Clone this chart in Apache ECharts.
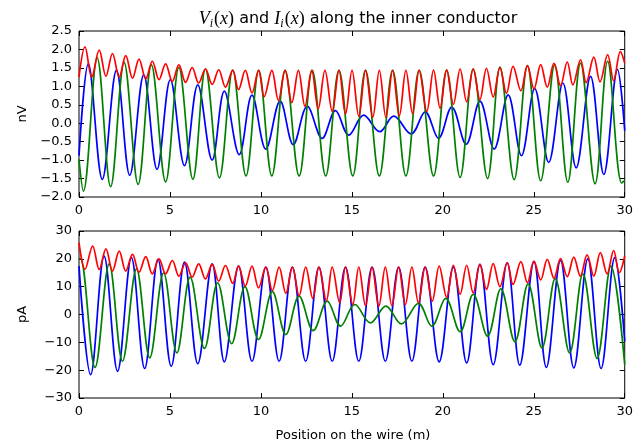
<!DOCTYPE html>
<html>
<head>
<meta charset="utf-8">
<script src="https://cdn.jsdelivr.net/npm/echarts@6/dist/echarts.min.js"></script>
<style>
  html, body { margin: 0; padding: 0; background: #fff; }
  #chart { width: 636px; height: 446px; }
</style>
</head>
<body>
<div id="chart"></div>
<script>
// voltage along the inner conductor (nV): [position m, value]
const vRe = [
  [0, -0.88], [0.51, 1.61], [1.28, -1.52], [2.06, 1.44], [2.79, -1.41], [3.56, 1.31],
  [4.29, -1.25], [5.02, 1.18], [5.80, -1.15], [6.53, 1.04], [7.32, -1.00], [7.99, 0.87],
  [8.81, -0.85], [9.51, 0.76], [10.27, -0.70], [11.06, 0.60], [11.78, -0.58], [12.55, 0.46],
  [13.37, -0.41], [14.10, 0.34], [14.83, -0.32], [15.65, 0.22], [16.53, -0.23], [17.30, 0.19],
  [18.26, -0.29], [19.03, 0.31], [19.76, -0.41], [20.49, 0.44], [21.28, -0.57], [22.04, 0.60],
  [22.82, -0.70], [23.59, 0.77], [24.32, -0.88], [25.05, 0.94], [25.82, -1.06], [26.60, 1.09],
  [27.33, -1.21], [28.12, 1.27], [28.85, -1.39], [29.60, 1.46], [30, -0.2]
];
const vIm = [
  [0, -0.98], [0.24, -1.84], [1.00, 1.77], [1.74, -1.72], [2.48, 1.65], [3.25, -1.66],
  [3.98, 1.58], [4.76, -1.59], [5.49, 1.51], [6.26, -1.52], [6.95, 1.47], [7.72, -1.48],
  [8.45, 1.44], [9.18, -1.43], [9.88, 1.43], [10.60, -1.43], [11.33, 1.43], [12.10, -1.43],
  [12.82, 1.43], [13.56, -1.43], [14.29, 1.43], [15.05, -1.43], [15.75, 1.43], [16.51, -1.43],
  [17.24, 1.43], [17.97, -1.43], [18.70, 1.43], [19.49, -1.43], [20.21, 1.44], [20.95, -1.47],
  [21.67, 1.47], [22.46, -1.50], [23.14, 1.52], [23.92, -1.53], [24.65, 1.56], [25.38, -1.56],
  [26.15, 1.59], [26.87, -1.60], [27.57, 1.63], [28.37, -1.64], [29.06, 1.68], [29.83, -1.62],
  [30, -1.55]
];
const vAbs = [
  [0, 1.25], [0.33, 2.07], [0.70, 1.25], [1.11, 1.98], [1.48, 1.27], [1.84, 1.89],
  [2.21, 1.25], [2.57, 1.83], [2.94, 1.22], [3.30, 1.74], [3.67, 1.20], [4.03, 1.68],
  [4.40, 1.18], [4.76, 1.61], [5.13, 1.13], [5.49, 1.58], [5.86, 1.11], [6.22, 1.51],
  [6.58, 1.09], [6.95, 1.47], [7.32, 1.05], [7.68, 1.45], [8.05, 0.98], [8.45, 1.43],
  [8.77, 0.91], [9.14, 1.43], [9.51, 0.82], [9.87, 1.43], [10.18, 0.72], [10.60, 1.43],
  [10.96, 0.62], [11.33, 1.43], [11.70, 0.56], [12.06, 1.43], [12.42, 0.46], [12.79, 1.43],
  [13.15, 0.39], [13.52, 1.43], [13.92, 0.32], [14.29, 1.43], [14.65, 0.25], [15.01, 1.43],
  [15.38, 0.19], [15.75, 1.43], [16.15, 0.16], [16.51, 1.43], [16.87, 0.16], [17.24, 1.43],
  [17.61, 0.20], [17.97, 1.43], [18.34, 0.26], [18.70, 1.43], [19.12, 0.32], [19.49, 1.44],
  [19.85, 0.41], [20.21, 1.44], [20.58, 0.51], [20.95, 1.47], [21.31, 0.58], [21.67, 1.47],
  [22.04, 0.64], [22.40, 1.49], [22.77, 0.71], [23.14, 1.51], [23.50, 0.81], [23.86, 1.54],
  [24.29, 0.88], [24.65, 1.56], [25.01, 0.93], [25.38, 1.59], [25.74, 0.98], [26.11, 1.62],
  [26.47, 1.02], [26.84, 1.66], [27.15, 1.04], [27.57, 1.72], [27.88, 1.10], [28.30, 1.79],
  [28.64, 1.12], [29.06, 1.86], [29.39, 1.15], [29.76, 1.94], [30, 1.63]
];

// current along the inner conductor (pA): [position m, value]
const iRe = [
  [0, 17.4], [0.64, -21.6], [1.38, 21.0], [2.12, -20.4], [2.88, 20.4], [3.61, -19.4],
  [4.34, 19.8], [5.07, -18.6], [5.80, 18.8], [6.53, -17.7], [7.32, 18.2], [7.99, -17.0],
  [8.77, 17.4], [9.51, -16.8], [10.27, 17.0], [11.00, -16.8], [11.73, 17.0], [12.46, -16.8],
  [13.19, 17.0], [13.92, -16.8], [14.65, 17.0], [15.38, -16.8], [16.11, 17.0], [16.84, -16.8],
  [17.57, 17.0], [18.30, -16.8], [19.03, 17.0], [19.80, -17.0], [20.58, 17.0], [21.31, -17.4],
  [22.04, 18.0], [22.77, -18.0], [23.54, 18.6], [24.23, -18.2], [25.01, 19.0], [25.69, -19.0],
  [26.47, 19.4], [27.20, -19.2], [27.97, 20.0], [28.70, -19.4], [29.45, 20.4], [30, -9.6]
];
const iIm = [
  [0, 20.0], [0.08, 20.1], [0.88, -19.0], [1.66, 18.2], [2.39, -16.8], [3.16, 16.4],
  [3.89, -15.6], [4.65, 15.0], [5.38, -13.8], [6.11, 13.4], [6.90, -12.2], [7.62, 11.4],
  [8.39, -10.5], [9.12, 10.0], [9.87, -9.0], [10.63, 8.2], [11.37, -7.2], [12.10, 6.6],
  [12.88, -5.8], [13.65, 4.8], [14.38, -4.2], [15.16, 3.6], [16.02, -3.0], [16.87, 3.0],
  [17.72, -3.4], [18.66, 4.0], [19.39, -4.2], [20.16, 5.8], [20.95, -6.2], [21.67, 7.2],
  [22.46, -7.8], [23.19, 9.2], [23.96, -9.8], [24.69, 11.0], [25.45, -12.0], [26.18, 12.9],
  [26.97, -13.8], [27.70, 14.6], [28.48, -15.8], [29.24, 17.4], [30, -18.0]
];
const iAbs = [
  [0, 25.8], [0.33, 16.2], [0.75, 24.6], [1.11, 16.2], [1.48, 23.6], [1.84, 15.6],
  [2.21, 22.8], [2.57, 15.6], [2.94, 21.6], [3.30, 15.2], [3.67, 20.8], [4.03, 14.6],
  [4.40, 20.0], [4.76, 14.6], [5.13, 19.4], [5.49, 13.8], [5.86, 18.6], [6.22, 13.4],
  [6.58, 18.2], [6.95, 12.8], [7.32, 18.0], [7.68, 12.0], [8.05, 17.6], [8.45, 11.2],
  [8.77, 17.4], [9.14, 10.2], [9.51, 17.4], [9.87, 9.6], [10.27, 17.0], [10.63, 8.6],
  [11.00, 17.0], [11.37, 7.6], [11.73, 17.0], [12.10, 6.8], [12.46, 17.0], [12.85, 5.8],
  [13.19, 17.0], [13.60, 5.0], [13.92, 17.0], [14.33, 4.2], [14.65, 17.0], [15.05, 3.6],
  [15.38, 17.0], [15.75, 3.2], [16.11, 17.0], [16.48, 3.0], [16.84, 17.0], [17.20, 3.2],
  [17.57, 17.0], [17.94, 3.6], [18.30, 17.0], [18.66, 4.2], [19.03, 17.0], [19.42, 4.8],
  [19.80, 17.4], [20.21, 6.2], [20.58, 17.7], [20.95, 7.2], [21.31, 17.7], [21.67, 7.8],
  [22.04, 18.0], [22.40, 9.0], [22.77, 18.3], [23.14, 10.0], [23.54, 18.6], [23.86, 10.8],
  [24.29, 19.0], [24.65, 11.4], [25.01, 19.2], [25.38, 12.4], [25.74, 19.8], [26.11, 13.0],
  [26.47, 20.1], [26.84, 13.6], [27.20, 20.6], [27.56, 13.8], [27.93, 21.4], [28.30, 13.8],
  [28.66, 22.2], [29.03, 14.6], [29.39, 23.0], [29.70, 15.0], [30, 21.0]
];

const chart = echarts.init(document.getElementById('chart'), null, { renderer: 'canvas' });

const labelFont = { color: '#000', fontFamily: 'DejaVu Sans', fontSize: 13 };
const minus = v => String(v).replace('-', '\u2212');

function xAx(grid, pos, showLabel) {
  return {
    type: 'value', gridIndex: grid, position: pos, min: 0, max: 30, interval: 5,
    axisLine: { show: false, onZero: false }, splitLine: { show: false },
    axisTick: { inside: true, length: 5, lineStyle: { color: '#000' } },
    axisLabel: Object.assign({ show: showLabel, margin: 7 }, labelFont)
  };
}
function yAx(grid, pos, min, max, step, showLabel, name, digits) {
  return {
    type: 'value', gridIndex: grid, position: pos, min: min, max: max, interval: step,
    axisLine: { show: false, onZero: false }, splitLine: { show: false },
    axisTick: { inside: true, length: 5, lineStyle: { color: '#000' } },
    axisLabel: Object.assign({ show: showLabel, margin: 7,
      formatter: v => minus(v.toFixed(digits)) }, labelFont),
    name: name, nameLocation: 'middle', nameGap: 50, nameRotate: 90,
    nameTextStyle: labelFont
  };
}
function line(data, color, xi, yi) {
  return {
    type: 'line', data: data, xAxisIndex: xi, yAxisIndex: yi,
    smooth: 0.36, showSymbol: false, symbol: 'none', animation: false,
    lineStyle: { color: color, width: 1.7 }
  };
}

const tok = { color: '#000', fontWeight: 'normal', lineHeight: 22 };
chart.setOption({
  animation: false,
  title: {
    left: 353, top: 3, textAlign: 'center',
    text: '{m|V}{s|i}{r|(}{m|x}{r|)}{t| and }{m|I}{s|i}{r|(}{m|x}{r|)}{t| along the inner conductor}',
    textStyle: {
      fontWeight: 'normal',
      rich: {
        t: Object.assign({ fontFamily: 'DejaVu Sans', fontSize: 16 }, tok),
        m: Object.assign({ fontFamily: 'Liberation Serif', fontStyle: 'italic', fontSize: 18 }, tok),
        r: Object.assign({ fontFamily: 'Liberation Serif', fontSize: 18 }, tok),
        s: { fontFamily: 'Liberation Serif', fontStyle: 'italic', fontSize: 12, color: '#000',
             fontWeight: 'normal', lineHeight: 12, verticalAlign: 'bottom', padding: [0, 1, 0, 0] }
      }
    }
  },
  grid: [
    { left: 79, top: 31, width: 548, height: 166, show: true, borderColor: '#000', borderWidth: 1, backgroundColor: 'transparent' },
    { left: 79, top: 231, width: 548, height: 167, show: true, borderColor: '#000', borderWidth: 1, backgroundColor: 'transparent' }
  ],
  xAxis: [
    xAx(0, 'bottom', true), xAx(1, 'bottom', true), xAx(0, 'top', false), xAx(1, 'top', false)
  ],
  yAxis: [
    yAx(0, 'left', -2, 2.5, 0.5, true, 'nV', 1), yAx(1, 'left', -30, 30, 10, true, 'pA', 0),
    yAx(0, 'right', -2, 2.5, 0.5, false, '', 1), yAx(1, 'right', -30, 30, 10, false, '', 0)
  ],
  series: [
    line(vRe, '#0000ff', 0, 0), line(vIm, '#008000', 0, 0), line(vAbs, '#ff0000', 0, 0),
    line(iRe, '#0000ff', 1, 1), line(iIm, '#008000', 1, 1), line(iAbs, '#ff0000', 1, 1)
  ],
  graphic: [{
    type: 'text', x: 353, y: 436,
    style: { text: 'Position on the wire (m)', fill: '#000', font: '13px "DejaVu Sans"',
             align: 'center', verticalAlign: 'middle' }
  }]
});
</script>
</body>
</html>
